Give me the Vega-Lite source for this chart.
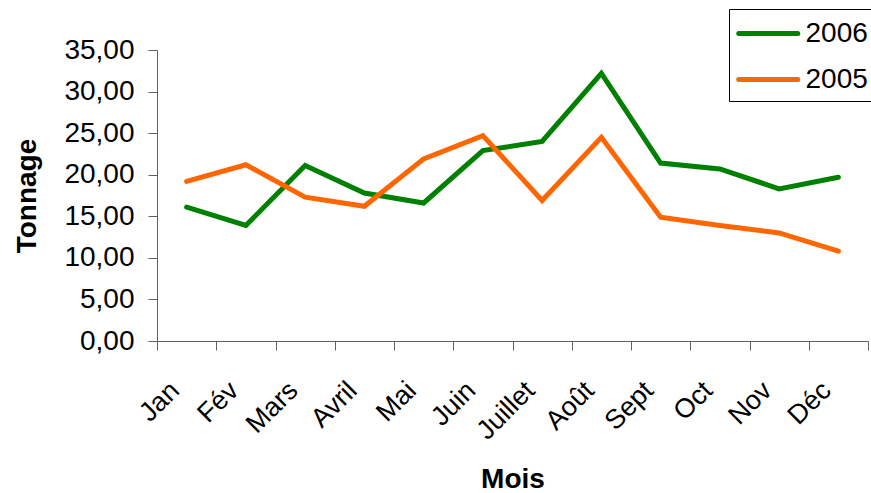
{
  "$schema": "https://vega.github.io/schema/vega-lite/v6.json",
  "width": 711,
  "height": 291,
  "autosize": "none",
  "padding": {"left": 157, "top": 50, "right": 3, "bottom": 152},
  "background": "white",
  "config": {"font": "Liberation Sans", "view": {"stroke": null}},
  "data": {"values": [
    {"mois": "Jan", "annee": "2006", "t": 16.1},
    {"mois": "Fév", "annee": "2006", "t": 13.9},
    {"mois": "Mars", "annee": "2006", "t": 21.1},
    {"mois": "Avril", "annee": "2006", "t": 17.8},
    {"mois": "Mai", "annee": "2006", "t": 16.6},
    {"mois": "Juin", "annee": "2006", "t": 22.9},
    {"mois": "Juillet", "annee": "2006", "t": 24.0},
    {"mois": "Août", "annee": "2006", "t": 32.2},
    {"mois": "Sept", "annee": "2006", "t": 21.4},
    {"mois": "Oct", "annee": "2006", "t": 20.7},
    {"mois": "Nov", "annee": "2006", "t": 18.3},
    {"mois": "Déc", "annee": "2006", "t": 19.7},
    {"mois": "Jan", "annee": "2005", "t": 19.2},
    {"mois": "Fév", "annee": "2005", "t": 21.2},
    {"mois": "Mars", "annee": "2005", "t": 17.3},
    {"mois": "Avril", "annee": "2005", "t": 16.2},
    {"mois": "Mai", "annee": "2005", "t": 21.9},
    {"mois": "Juin", "annee": "2005", "t": 24.7},
    {"mois": "Juillet", "annee": "2005", "t": 16.9},
    {"mois": "Août", "annee": "2005", "t": 24.5},
    {"mois": "Sept", "annee": "2005", "t": 14.9},
    {"mois": "Oct", "annee": "2005", "t": 13.9},
    {"mois": "Nov", "annee": "2005", "t": 13.0},
    {"mois": "Déc", "annee": "2005", "t": 10.8}
  ]},
  "mark": {"type": "line", "strokeWidth": 5, "strokeJoin": "miter", "strokeCap": "round"},
  "encoding": {
    "x": {
      "field": "mois", "type": "nominal", "sort": null, "bandPosition": 0.5,
      "scale": {"type": "band", "paddingInner": 0, "paddingOuter": 0},
      "axis": {
        "title": "Mois", "titleFontSize": 28, "titleFontWeight": "bold", "titleColor": "black",
        "titleY": 124, "titleBaseline": "top",
        "labelAngle": -45, "labelAlign": "right", "labelBaseline": "middle", "labelFontSize": 27, "labelColor": "black",
        "labelOffset": -12, "labelPadding": 36,
        "tickBand": "extent", "tickSize": 9, "tickColor": "#606060", "domainColor": "#606060"
      }
    },
    "y": {
      "field": "t", "type": "quantitative",
      "scale": {"domain": [0, 35], "nice": false},
      "axis": {
        "title": "Tonnage", "titleFontSize": 28, "titleFontWeight": "bold", "titleColor": "black", "titlePadding": 22,
        "values": [0, 5, 10, 15, 20, 25, 30, 35],
        "labelExpr": "replace(format(datum.value, '.2f'), '.', ',')",
        "labelFontSize": 28, "labelColor": "black", "grid": false,
        "tickSize": 9, "tickColor": "#606060", "domainColor": "#606060", "labelPadding": 14
      }
    },
    "color": {
      "field": "annee", "type": "nominal",
      "scale": {"domain": ["2006", "2005"], "range": ["#008000", "#FF6600"]},
      "legend": {
        "title": null, "orient": "none", "legendX": 572, "legendY": -41,
        "strokeColor": "black", "padding": 7, "fillColor": "white",
        "symbolType": "M-1,0H3", "symbolStrokeWidth": 5, "symbolSize": 870,
        "labelFontSize": 28, "labelColor": "black", "rowPadding": 14, "labelOffset": 34.5,
        "encode": {"symbols": {"update": {"strokeCap": {"value": "round"}}}}
      }
    }
  }
}
